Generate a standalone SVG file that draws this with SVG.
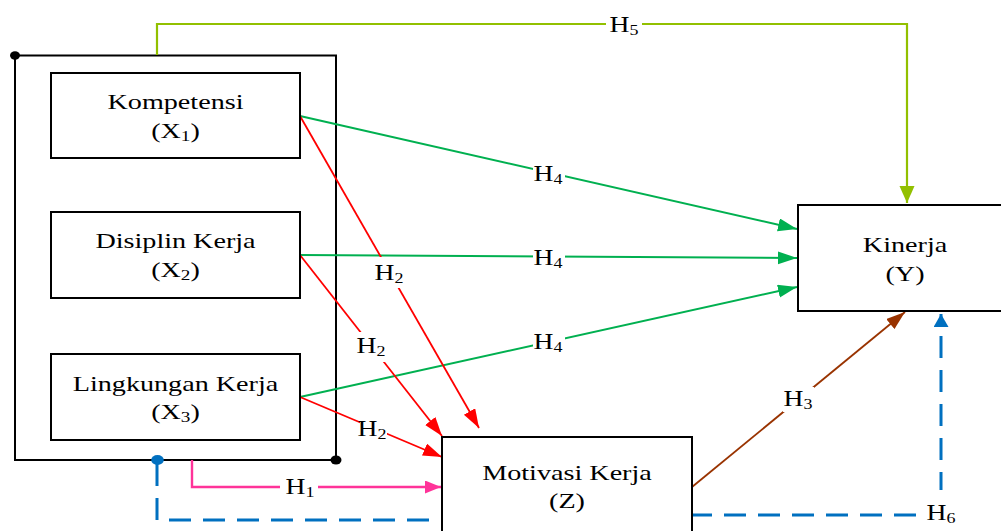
<svg xmlns="http://www.w3.org/2000/svg" width="1001" height="531" viewBox="0 0 1001 531">
  <style>
    .box { fill: #ffffff; stroke: #000000; stroke-width: 2; }
    .frame { fill: none; stroke: #000000; stroke-width: 2; }
    .nt { font-family: "Liberation Serif", "Times New Roman", serif; font-size: 22px; text-anchor: middle; fill: #000000; }
    .ht { font-family: "Liberation Serif", "Times New Roman", serif; font-size: 23px; text-anchor: middle; fill: #000000; }
    .sub { font-size: 15px; }
    .lblbg { fill: #ffffff; stroke: none; }
    .c { fill: none; }
    .green { stroke: #00B050; stroke-width: 2; }
    .red { stroke: #FF0000; stroke-width: 1.8; }
    .brown { stroke: #993300; stroke-width: 1.8; }
    .lime { stroke: #92C000; stroke-width: 2.2; }
    .pink { stroke: #FF3399; stroke-width: 2.4; }
    .blue { stroke: #0070C0; stroke-width: 3; stroke-dasharray: 22 12; }
  </style>
  <defs>
    <marker id="ah-green" markerUnits="userSpaceOnUse" markerWidth="20" markerHeight="14" refX="19" refY="6.5" orient="auto">
      <path d="M0,0 L19,6.5 L0,13 Z" fill="#00B050"/>
    </marker>
    <marker id="ah-red" markerUnits="userSpaceOnUse" markerWidth="20" markerHeight="14" refX="19" refY="6.5" orient="auto">
      <path d="M0,0 L19,6.5 L0,13 Z" fill="#FF0000"/>
    </marker>
    <marker id="ah-brown" markerUnits="userSpaceOnUse" markerWidth="20" markerHeight="14" refX="19" refY="6.5" orient="auto">
      <path d="M0,0 L19,6.5 L0,13 Z" fill="#993300"/>
    </marker>
    <marker id="ah-lime" markerUnits="userSpaceOnUse" markerWidth="18" markerHeight="16" refX="17" refY="7.5" orient="auto">
      <path d="M0,0 L17,7.5 L0,15 Z" fill="#92C000"/>
    </marker>
    <marker id="ah-pink" markerUnits="userSpaceOnUse" markerWidth="18" markerHeight="14" refX="16" refY="6.5" orient="auto">
      <path d="M0,0 L16,6.5 L0,13 Z" fill="#FF3399"/>
    </marker>
    <marker id="ah-blue" markerUnits="userSpaceOnUse" markerWidth="16" markerHeight="16" refX="13" refY="7.5" orient="auto">
      <path d="M0,0 L13,7.5 L0,15 Z" fill="#0070C0"/>
    </marker>
  </defs>

  <!-- grouping frame around the three independent variables -->
  <g id="frame-x">
    <rect class="frame" x="15" y="55.5" width="321" height="404.5"/>
    <ellipse cx="15" cy="55.5" rx="5" ry="4.2" fill="#000000"/>
    <ellipse cx="336" cy="460" rx="5.5" ry="4.5" fill="#000000"/>
  </g>

  <!-- connectors -->
  <g id="connectors">
    <!-- H5: X -> Y -->
    <path class="c lime" d="M157,55 V24 H907 V203" marker-end="url(#ah-lime)"/>
    <!-- H4: X1, X2, X3 -> Y -->
    <path class="c green" d="M300,116 L797,229" marker-end="url(#ah-green)"/>
    <path class="c green" d="M300,255 L797,258" marker-end="url(#ah-green)"/>
    <path class="c green" d="M300,397 L797,287" marker-end="url(#ah-green)"/>
    <!-- H2: X1, X2, X3 -> Z -->
    <path class="c red" d="M300,116 L479,428" marker-end="url(#ah-red)"/>
    <path class="c red" d="M300,255 L442,436" marker-end="url(#ah-red)"/>
    <path class="c red" d="M300,397 L442,457" marker-end="url(#ah-red)"/>
    <!-- H3: Z -> Y -->
    <path class="c brown" d="M692,487 L905,312" marker-end="url(#ah-brown)"/>
    <!-- H1: X -> Z -->
    <path class="c pink" d="M192,460 V487 H441" marker-end="url(#ah-pink)"/>
    <!-- H6: X -> Z -> Y (dashed) -->
    <path class="c blue" d="M157,464 V520 H444"/>
    <path class="c blue" d="M690,515 H941 V314" marker-end="url(#ah-blue)"/>
    <ellipse cx="157.5" cy="460" rx="6.3" ry="5" fill="#0070C0"/>

    <!-- connector labels -->
    <rect class="lblbg" x="606" y="10" width="36" height="28"/>
    <text class="ht" transform="translate(624 31.5) scale(1.2 1)">H<tspan class="sub" dy="3">5</tspan></text>

    <rect class="lblbg" x="533" y="160" width="32" height="26"/>
    <text class="ht" transform="translate(548 181) scale(1.2 1)">H<tspan class="sub" dy="3">4</tspan></text>
    <rect class="lblbg" x="533" y="244" width="32" height="26"/>
    <text class="ht" transform="translate(548 265) scale(1.2 1)">H<tspan class="sub" dy="3">4</tspan></text>
    <rect class="lblbg" x="533" y="328" width="32" height="26"/>
    <text class="ht" transform="translate(548 349) scale(1.2 1)">H<tspan class="sub" dy="3">4</tspan></text>

    <rect class="lblbg" x="374" y="257" width="30" height="31"/>
    <text class="ht" transform="translate(389 280) scale(1.2 1)">H<tspan class="sub" dy="3">2</tspan></text>
    <rect class="lblbg" x="357" y="332" width="29" height="30"/>
    <text class="ht" transform="translate(371 353) scale(1.2 1)">H<tspan class="sub" dy="3">2</tspan></text>
    <rect class="lblbg" x="360" y="416" width="27" height="24"/>
    <text class="ht" transform="translate(372 436) scale(1.2 1)">H<tspan class="sub" dy="3">2</tspan></text>

    <rect class="lblbg" x="783" y="387" width="31" height="25"/>
    <text class="ht" transform="translate(798 406) scale(1.2 1)">H<tspan class="sub" dy="3">3</tspan></text>

    <rect class="lblbg" x="280" y="474" width="38" height="26"/>
    <text class="ht" transform="translate(300 494) scale(1.2 1)">H<tspan class="sub" dy="3">1</tspan></text>

    <rect class="lblbg" x="918" y="490" width="46" height="40"/>
    <text class="ht" transform="translate(941 520) scale(1.2 1)">H<tspan class="sub" dy="3">6</tspan></text>
  </g>

  <!-- nodes -->
  <g id="node-x1">
    <rect class="box" x="51" y="73" width="249" height="85"/>
    <text class="nt" transform="translate(175.5 109) scale(1.28 1)">Kompetensi</text>
    <text class="nt" transform="translate(175.5 138) scale(1.28 1)">(X<tspan class="sub" dy="3">1</tspan><tspan dy="-3">)</tspan></text>
  </g>
  <g id="node-x2">
    <rect class="box" x="51" y="212" width="249" height="86"/>
    <text class="nt" transform="translate(175.5 248) scale(1.28 1)">Disiplin Kerja</text>
    <text class="nt" transform="translate(175.5 277) scale(1.28 1)">(X<tspan class="sub" dy="3">2</tspan><tspan dy="-3">)</tspan></text>
  </g>
  <g id="node-x3">
    <rect class="box" x="51" y="354" width="249" height="86"/>
    <text class="nt" transform="translate(175.5 390.5) scale(1.28 1)">Lingkungan Kerja</text>
    <text class="nt" transform="translate(175.5 419) scale(1.28 1)">(X<tspan class="sub" dy="3">3</tspan><tspan dy="-3">)</tspan></text>
  </g>
  <g id="node-y">
    <rect class="box" x="798" y="205" width="210" height="106"/>
    <text class="nt" transform="translate(905 251.5) scale(1.28 1)">Kinerja</text>
    <text class="nt" transform="translate(905 280.5) scale(1.28 1)">(Y)</text>
  </g>
  <g id="node-z">
    <rect class="box" x="442" y="437" width="250" height="110"/>
    <text class="nt" transform="translate(567 480) scale(1.28 1)">Motivasi Kerja</text>
    <text class="nt" transform="translate(567 508) scale(1.28 1)">(Z)</text>
  </g>
</svg>
